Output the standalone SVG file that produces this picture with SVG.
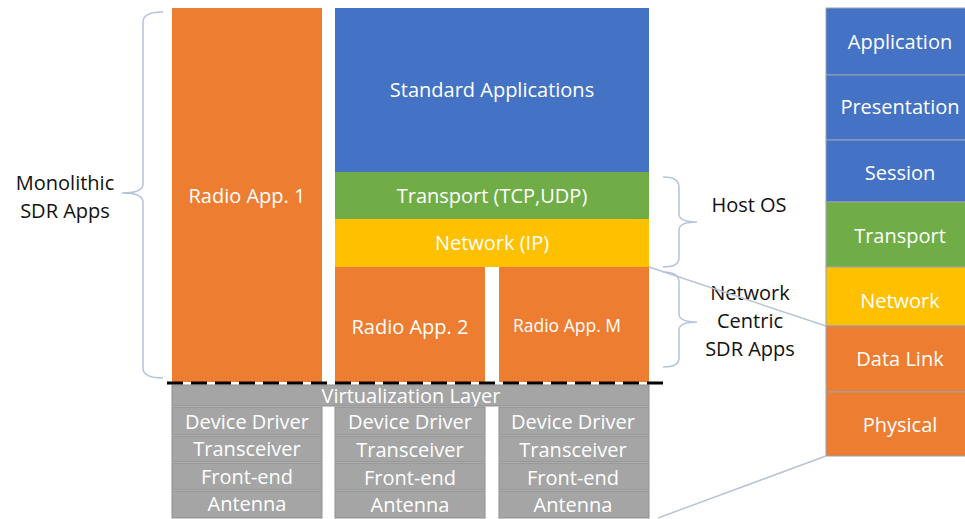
<svg xmlns="http://www.w3.org/2000/svg" width="965" height="519" viewBox="0 0 965 519">
  <style>
    text { font-family: "Open Sans", "Liberation Sans", Arial, sans-serif; text-anchor: middle; }
    .w { fill: #ffffff; font-size: 20px; }
    .k { fill: #111111; font-size: 20px; }
    .or { fill: #ed7d31; }
    .bl { fill: #4472c4; }
    .gr { fill: #70ad47; }
    .ye { fill: #ffc000; }
    .gy { fill: #a5a5a5; stroke: #8f8f8f; stroke-width: 1; }
    .osi { stroke: #9aa3b0; stroke-width: 1; }
    .brace { fill: none; stroke: #b4c3dc; stroke-width: 1.5; }
    .link { fill: none; stroke: #b8c4d6; stroke-width: 1.5; }
  </style>

  <!-- monolithic application -->
  <g id="radio-app-1">
    <rect class="or" x="172" y="8" width="150" height="374"/>
    <text class="w" x="247" y="203">Radio App. 1</text>
  </g>

  <!-- host OS stack -->
  <g id="standard-applications">
    <rect class="bl" x="335" y="8" width="314" height="164"/>
    <text class="w" x="492" y="97">Standard Applications</text>
  </g>
  <g id="transport">
    <rect class="gr" x="335" y="172" width="314" height="47"/>
    <text class="w" x="492" y="203">Transport (TCP,UDP)</text>
  </g>
  <g id="network">
    <rect class="ye" x="335" y="219" width="314" height="48"/>
    <text class="w" x="492" y="250">Network (IP)</text>
  </g>
  <g id="radio-app-2">
    <rect class="or" x="335" y="267" width="150" height="115"/>
    <text class="w" x="410" y="334">Radio App. 2</text>
  </g>
  <g id="radio-app-m">
    <rect class="or" x="499" y="267" width="150" height="115"/>
    <text class="w" x="567" y="332" style="font-size:17.5px">Radio App. M</text>
  </g>

  <!-- virtualization and hardware -->
  <g id="virtualization-layer">
    <rect class="gy" x="172" y="385" width="477" height="21"/>
    <text class="w" x="411" y="403">Virtualization Layer</text>
  </g>
  <g id="hw-1">
    <rect class="gy" x="172" y="407" width="150" height="28"/>
    <text class="w" x="247" y="429">Device Driver</text>
    <rect class="gy" x="172" y="436" width="150" height="26"/>
    <text class="w" x="247" y="456">Transceiver</text>
    <rect class="gy" x="172" y="463" width="150" height="27"/>
    <text class="w" x="247" y="484">Front-end</text>
    <rect class="gy" x="172" y="491" width="150" height="27"/>
    <text class="w" x="247" y="511">Antenna</text>
  </g>
  <g id="hw-2">
    <rect class="gy" x="335" y="407" width="150" height="28"/>
    <text class="w" x="410" y="429">Device Driver</text>
    <rect class="gy" x="335" y="436" width="150" height="26"/>
    <text class="w" x="410" y="457">Transceiver</text>
    <rect class="gy" x="335" y="463" width="150" height="27"/>
    <text class="w" x="410" y="485">Front-end</text>
    <rect class="gy" x="335" y="491" width="150" height="27"/>
    <text class="w" x="410" y="512">Antenna</text>
  </g>
  <g id="hw-m">
    <rect class="gy" x="499" y="407" width="150" height="28"/>
    <text class="w" x="573" y="429">Device Driver</text>
    <rect class="gy" x="499" y="436" width="150" height="26"/>
    <text class="w" x="573" y="457">Transceiver</text>
    <rect class="gy" x="499" y="463" width="150" height="27"/>
    <text class="w" x="573" y="485">Front-end</text>
    <rect class="gy" x="499" y="491" width="150" height="27"/>
    <text class="w" x="573" y="512">Antenna</text>
  </g>

  <!-- OSI reference stack -->
  <g id="osi-application">
    <rect class="bl osi" x="826" y="8" width="145" height="67"/>
    <text class="w" x="900" y="49">Application</text>
  </g>
  <g id="osi-presentation">
    <rect class="bl osi" x="826" y="75" width="145" height="65"/>
    <text class="w" x="900" y="114">Presentation</text>
  </g>
  <g id="osi-session">
    <rect class="bl osi" x="826" y="140" width="145" height="62"/>
    <text class="w" x="900" y="180">Session</text>
  </g>
  <g id="osi-transport">
    <rect class="gr osi" x="826" y="202" width="145" height="65"/>
    <text class="w" x="900" y="243">Transport</text>
  </g>
  <g id="osi-network">
    <rect class="ye osi" x="826" y="267" width="145" height="59"/>
    <text class="w" x="900" y="308">Network</text>
  </g>
  <g id="osi-data-link">
    <rect class="or osi" x="826" y="326" width="145" height="66"/>
    <text class="w" x="900" y="366">Data Link</text>
  </g>
  <g id="osi-physical">
    <rect class="or osi" x="826" y="392" width="145" height="64"/>
    <text class="w" x="900" y="432">Physical</text>
  </g>

  <!-- group labels -->
  <g id="label-monolithic">
    <text class="k" x="65" y="190">Monolithic</text>
    <text class="k" x="65" y="218">SDR Apps</text>
  </g>
  <g id="label-host-os">
    <text class="k" x="749" y="212">Host OS</text>
  </g>
  <g id="label-network-centric">
    <text class="k" x="750" y="300">Network</text>
    <text class="k" x="750" y="328">Centric</text>
    <text class="k" x="750" y="356">SDR Apps</text>
  </g>

  <!-- braces, divider and mapping lines -->
  <g id="connectors">
    <path class="brace" d="M163,12 Q143,12 143,22 L143,184 Q143,193 122,193 Q143,193 143,202 L143,368 Q143,378 163,378"/>
    <path class="brace" d="M663,177 Q679,177 679,187 L679,214 Q679,222 697,222 Q679,222 679,230 L679,258 Q679,267 663,267"/>
    <path class="brace" d="M663,272 Q679,272 679,282 L679,314 Q679,322 697,322 Q679,322 679,330 L679,358 Q679,367 663,367"/>
    <line x1="167" y1="383" x2="664" y2="383" stroke="#000000" stroke-width="3" stroke-dasharray="16 8"/>
    <line class="link" x1="649" y1="267" x2="826" y2="326"/>
    <line class="link" x1="658" y1="518" x2="826" y2="456"/>
  </g>
</svg>
